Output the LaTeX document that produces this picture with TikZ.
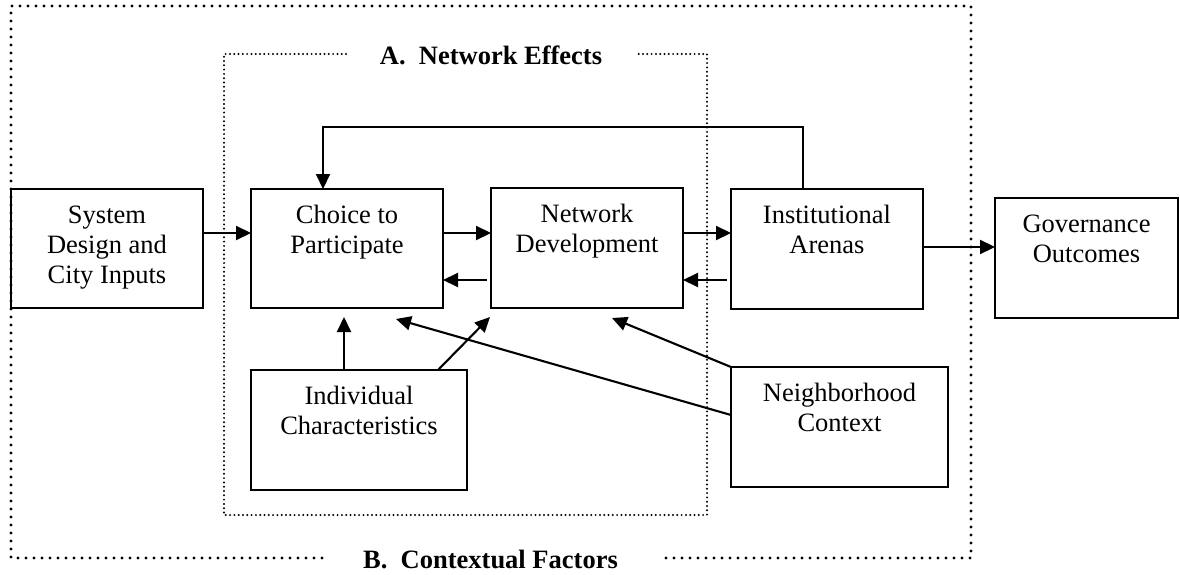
\documentclass[tikz,border=0pt]{standalone}
\usepackage{fontspec}
\setmainfont{Liberation Serif}
\usetikzlibrary{arrows.meta}
\newcommand{\boxtext}[3]{\parbox[c][#2][t]{#1}{\centering\fontsize{26.5}{30}\selectfont\rule{0pt}{34pt}#3}}
\tikzset{
  box/.style={draw, line width=2.2pt, inner sep=0pt, outer sep=0pt},
  arr/.style={line width=2.1pt, -{Triangle[length=15pt,width=14pt]}},
  outerdots/.style={line width=3.4pt, line cap=round, dash pattern=on 0pt off 8pt},
  innerdots/.style={line width=2.2pt, line cap=round, dash pattern=on 0pt off 4.3pt},
  title/.style={font=\fontsize{26.5}{30}\selectfont\bfseries, inner sep=0pt, anchor=base}
}
\begin{document}
\begin{tikzpicture}[x=1pt,y=-1pt]
\useasboundingbox (0,0) rectangle (1180,575);
% frames
\coordinate (oTL) at (11,6);
\coordinate (oTR) at (971,6);
\coordinate (oBL) at (11,558);
\coordinate (oBR) at (971,558);
\coordinate (oB1) at (322,558);
\coordinate (oB2) at (659,558);
\draw[outerdots] (oB1) -- (oBL) -- (oTL) -- (oTR) -- (oBR) -- (oB2);
\coordinate (iTL) at (224,54);
\coordinate (iTR) at (707,54);
\coordinate (iBL) at (224,515);
\coordinate (iBR) at (707,515);
\coordinate (iT1) at (346,54);
\coordinate (iT2) at (638,54);
\draw[innerdots] (iT1) -- (iTL) -- (iBL) -- (iBR) -- (iTR) -- (iT2);
\node[title] (ta) at (491,65) {A.\ \ Network Effects};
\node[title] (tb) at (490.5,568) {B.\ \ Contextual Factors};
% boxes
\node[box] (sys) at (107,248.5) {\boxtext{192pt}{119pt}{System\\Design and\\City Inputs}};
\node[box] (cho) at (347,248.5) {\boxtext{192pt}{119pt}{Choice to\\Participate}};
\node[box] (net) at (587,248) {\boxtext{192pt}{120pt}{Network\\Development}};
\node[box] (ins) at (827,249) {\boxtext{192pt}{120pt}{Institutional\\Arenas}};
\node[box] (gov) at (1086.5,258) {\boxtext{183pt}{120pt}{Governance\\Outcomes}};
\node[box] (ind) at (359,430) {\boxtext{216pt}{120pt}{Individual\\Characteristics}};
\node[box] (nei) at (839.5,427) {\boxtext{217pt}{120pt}{Neighborhood\\Context}};
% helper coordinates
\coordinate (yA) at (0,233);
\coordinate (yB) at (0,280);
\coordinate (yC) at (0,247);
\coordinate (fbR) at (803,127);
\coordinate (fbL) at (323,127);
\coordinate (t1) at (344,317);
\coordinate (s1) at (344,370);
\coordinate (t2) at (490,317);
\coordinate (s2) at (438,370);
\coordinate (t3) at (612,318);
\coordinate (t4) at (396,319);
\coordinate (s4) at (731,415);
% connectors
\draw[arr] (sys.east |- yA) -- (cho.west |- yA);
\draw[arr] (cho.east |- yA) -- (net.west |- yA);
\draw[arr] ([xshift=-4pt]net.west |- yB) -- (cho.east |- yB);
\draw[arr] (net.east |- yA) -- (ins.west |- yA);
\draw[arr] ([xshift=-4pt]ins.west |- yB) -- (net.east |- yB);
\draw[arr] (ins.east |- yC) -- (gov.west |- yC);
\draw[arr] (ins.north -| fbR) -- (fbR) -- (fbL) -- (cho.north -| fbL);
\draw[arr] (ind.north -| s1) -- (t1);
\draw[arr] (ind.north -| s2) -- (t2);
\draw[arr] (nei.north west) -- (t3);
\draw[arr] (nei.west |- s4) -- (t4);
\end{tikzpicture}
\end{document}
